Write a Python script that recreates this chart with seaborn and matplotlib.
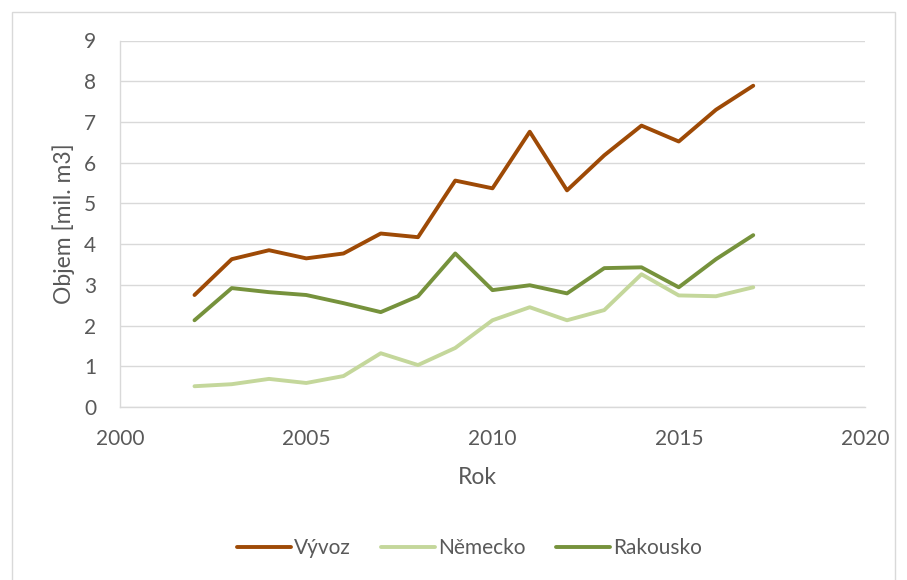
import matplotlib
matplotlib.use("Agg")
import matplotlib.pyplot as plt
import seaborn as sns
import pandas as pd
from matplotlib.patches import Rectangle
from matplotlib.lines import Line2D

years = list(range(2002, 2018))
vyvoz = [2.75, 3.63, 3.85, 3.65, 3.77, 4.26, 4.17, 5.56, 5.37, 6.76, 5.32, 6.18, 6.91, 6.52, 7.30, 7.89]
nemecko = [0.51, 0.56, 0.69, 0.59, 0.76, 1.32, 1.03, 1.45, 2.13, 2.45, 2.13, 2.38, 3.26, 2.74, 2.72, 2.94]
rakousko = [2.13, 2.92, 2.82, 2.75, 2.55, 2.33, 2.72, 3.77, 2.87, 2.99, 2.79, 3.41, 3.43, 2.94, 3.63, 4.22]
series_names = ["Vývoz", "Německo", "Rakousko"]
colors = ["#9E4A06", "#C4D79B", "#76923C"]
x_ticks = [2000, 2005, 2010, 2015, 2020]
y_ticks = list(range(0, 10))

df = pd.DataFrame({"Rok": years * 3,
                   "value": vyvoz + nemecko + rakousko,
                   "series": sum([[n] * len(years) for n in series_names], [])})

sns.set_style("white")
plt.rcParams["font.family"] = ["Lato", "DejaVu Sans"]
txt = "#595959"

fig = plt.figure(figsize=(9.07, 5.80), dpi=100)
W, H = 907, 580
ax = fig.add_axes([120 / W, (H - 407) / H, (865 - 120) / W, (407 - 40.5) / H])

fig.patches.append(Rectangle((12 / W, -5 / H), (895 - 12) / W, (568 + 5) / H,
                             transform=fig.transFigure, fill=False,
                             edgecolor="#D9D9D9", linewidth=1))

sns.lineplot(data=df, x="Rok", y="value", hue="series", hue_order=series_names,
             palette=colors, linewidth=2.8, ax=ax, legend=False)

ax.set_xlim(2000, 2020)
ax.set_ylim(0, 9)
ax.set_xticks(x_ticks)
ax.set_yticks(y_ticks)
ax.grid(axis="y", color="#D9D9D9", linewidth=1)
ax.grid(axis="x", visible=False)
ax.set_axisbelow(True)
for s in ["top", "right"]:
    ax.spines[s].set_visible(False)
for s in ["left", "bottom"]:
    ax.spines[s].set_color("#D9D9D9")
    ax.spines[s].set_linewidth(1)
ax.tick_params(axis="both", colors=txt, labelsize=15, length=0)
ax.tick_params(axis="y", pad=17)
ax.tick_params(axis="x", pad=16)
ax.set_xlabel("Rok", fontsize=16.5, color=txt)
ax.set_ylabel("Objem [mil. m3]", fontsize=16.5, color=txt)
ax.xaxis.set_label_coords((477 - 120) / (865 - 120), -(477 - 407) / (407 - 40.5))
ax.xaxis.label.set_va("center")
ax.yaxis.set_label_coords(-(120 - 64) / (865 - 120), 0.5)
ax.yaxis.label.set_va("center")

handles = [Line2D([0], [0], color=c, linewidth=2.8) for c in colors]
fig.legend(handles, series_names, loc="center", bbox_to_anchor=(469.5 / W, 1 - 548 / H),
           ncol=3, frameon=False, fontsize=15, labelcolor=txt, handlelength=2.6,
           handletextpad=0.15, columnspacing=1.45)

fig.savefig("out.png", dpi=100)
